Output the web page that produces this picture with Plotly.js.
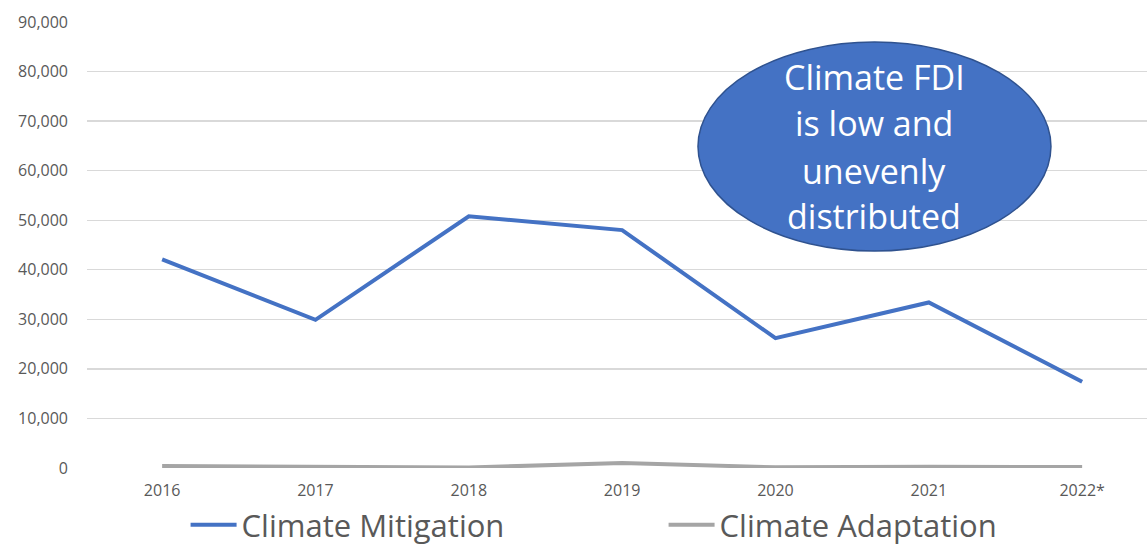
<!DOCTYPE html>
<html>
<head>
<meta charset="utf-8">
<script src="https://cdn.plot.ly/plotly-3.0.1.min.js"></script>
<style>html,body{margin:0;padding:0;background:#fff;}#chart{width:1147px;height:545px;}</style>
</head>
<body>
<div id="chart"></div>
<script>
const years = ["2016", "2017", "2018", "2019", "2020", "2021", "2022*"];
const mitigation = [42100, 29900, 50800, 48000, 26200, 33400, 17400];
const adaptation = [400, 300, 100, 1000, 150, 250, 200];
const yTicks = [0, 10000, 20000, 30000, 40000, 50000, 60000, 70000, 80000, 90000];
const yTickLabels = ["0", "10,000", "20,000", "30,000", "40,000", "50,000", "60,000", "70,000", "80,000", "90,000"];
const calloutLines = ["Climate FDI", "is low and", "unevenly", "distributed"];

const font = "Open Sans, sans-serif";
const traces = [
  {x: years, y: mitigation, name: "Climate Mitigation", type: "scatter", mode: "lines",
   line: {color: "#4472C4", width: 4}},
  {x: years, y: adaptation, name: "Climate Adaptation", type: "scatter", mode: "lines",
   line: {color: "#A5A5A5", width: 4}}
];

// callout line vertical positions (paper coords)
const lineY = [0.877, 0.774, 0.665, 0.564];
const annotations = calloutLines.map((t, i) => ({
  text: t, xref: "paper", yref: "paper", x: 0.7429, y: lineY[i],
  showarrow: false, xanchor: "center", yanchor: "middle",
  font: {family: font, size: 34, color: "#FFFFFF"}
}));

const layout = {
  width: 1147, height: 545,
  margin: {l: 87, r: 0, t: 22, b: 77, autoexpand: false},
  paper_bgcolor: "#FFFFFF", plot_bgcolor: "#FFFFFF",
  showlegend: true,
  legend: {orientation: "h", x: 0.093, xanchor: "left", y: -0.128, yanchor: "middle",
    font: {family: font, size: 31, color: "#595959"}, itemwidth: 46,
    entrywidth: 417, entrywidthmode: "pixels", bgcolor: "rgba(0,0,0,0)"},
  xaxis: {type: "category", range: [-0.49, 6.423], showgrid: false, zeroline: false,
    showline: false, ticks: "", tickfont: {family: font, size: 16, color: "#595959"},
    ticklabelstandoff: 11, fixedrange: true},
  yaxis: {range: [0, 90000], tickvals: yTicks, ticktext: yTickLabels, showgrid: true,
    gridcolor: "#D9D9D9", gridwidth: 1.3, zeroline: false, showline: false, ticks: "",
    tickfont: {family: font, size: 16, color: "#595959"}, ticklabelstandoff: 18, fixedrange: true},
  shapes: [{type: "circle", xref: "paper", yref: "paper",
    x0: 0.5764, x1: 0.9094, y0: 0.4865, y1: 0.955,
    fillcolor: "#4472C4", line: {color: "#2F528F", width: 1.5}, layer: "above"}],
  annotations: annotations
};

Plotly.newPlot("chart", traces, layout, {displayModeBar: false, staticPlot: true});
</script>
</body>
</html>
